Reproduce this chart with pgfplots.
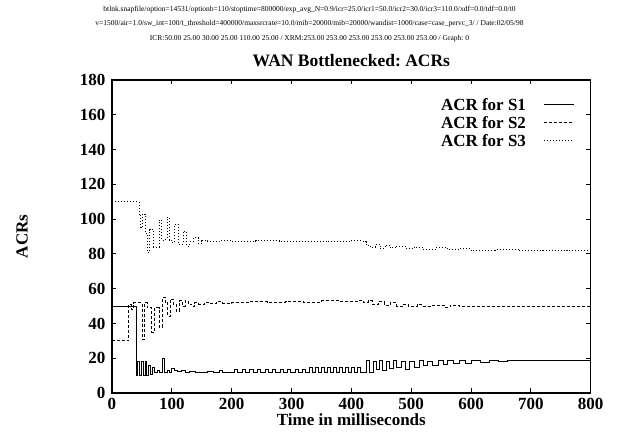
\documentclass[border=0pt]{standalone}
\usepackage{fontspec}
\setmainfont{Liberation Serif}
\usepackage{pgfplots}
\pgfplotsset{compat=1.18}
\frenchspacing
\begin{document}
\begin{tikzpicture}
\path[use as bounding box] (-112pt,-50pt) rectangle (507pt,393pt);
\begin{axis}[
  at={(0pt,0pt)}, anchor=south west,
  scale only axis, width=478.7pt, height=313pt,
  xmin=0, xmax=800, ymin=0, ymax=180,
  xtick={0,100,...,800}, ytick={0,20,...,180},
  /pgf/number format/assume math mode=true,
  tick label style={font=\fontsize{17}{17}\selectfont\bfseries},
  xticklabel style={yshift=-2pt},
  yticklabel style={xshift=-3pt},
  tick align=inside, major tick length=4.5pt,
  every tick/.style={black, line width=0.8pt},
  axis line style={black, line width=1.2pt},
  title={WAN Bottlenecked: ACRs},
  title style={font=\fontsize{17.5}{17.5}\selectfont\bfseries, at={(axis description cs:0.5,1)}, anchor=center, yshift=13pt},
  xlabel={Time in milliseconds},
  xlabel style={font=\fontsize{17}{17}\selectfont\bfseries, at={(axis description cs:0.5,0)}, anchor=center, yshift=-27pt},
  ylabel={ACRs},
  ylabel style={font=\fontsize{17}{17}\selectfont\bfseries, at={(axis description cs:-0.188,0.5)}, anchor=center},
  legend plot pos=right,
  legend cell align=right,
  legend image code/.code={\draw[#1] (0pt,0pt) -- (30pt,0pt);},
  legend style={draw=none, fill=none, inner sep=0pt, at={(axis description cs:0.967,0.946)}, anchor=north east,
    font=\fontsize{17}{17}\selectfont\bfseries, nodes={inner sep=1pt}, column sep=17pt, row sep=2.5pt},
]
\addplot[const plot, black, line width=0.7pt] coordinates {
(0,50) (40,10) (43,18) (46,10) (49,18) (52,10) (55,18) (58,10) (61,16) (64,11)
(67,15) (70,12) (73,12) (76,13) (79,12) (84,20) (87,12) (92,13) (96,12) (100,14)
(104,13) (110,12.5) (116,13) (122,12) (130,12.5) (140,12) (150,12) (160,12.5) (170,12) (180,13)
(185,12) (200,12) (205,13.6) (210,12) (218,13.6) (223,12) (230,13.6) (236,12) (243,13.6) (248,12)
(256,13.6) (261,12) (268,13.6) (273,12) (281,13.6) (286,12) (293,13.6) (298,12) (306,13.6) (311,12)
(318,13.6) (323,12) (330,14.5) (335,12) (340,15) (345,12) (350,15) (355,12) (360,15) (365,12)
(370,15) (375,12) (380,15) (385,12) (390,15) (395,12) (400,15) (405,12) (410,14.5) (415,12)
(425,18.5) (430,12) (436,18) (441,13.5) (446,18.5) (451,13) (458,18) (463,14) (470,18.5) (476,15)
(483,18) (490,13.5) (497,18) (505,15) (513,18.5) (520,16) (527,18) (535,16) (545,18.5) (553,16.5)
(560,18.5) (570,17) (580,18.5) (590,17) (600,18.5) (615,17.5) (630,19) (645,18) (660,19) (680,18.5)
(700,19) (730,18.8) (760,19) (800,19.5)
};
\addlegendentry{ACR for S1}
\addplot[const plot, black, line width=0.7pt, dash pattern=on 3pt off 2pt] coordinates {
(0,30) (28,51) (33,48) (36,52) (50,31) (54,52) (59,49) (66,35) (71,49) (79,38)
(84,55) (89,52) (93,44) (97,54) (102,51) (107,47) (112,53) (117,50) (122,53) (127,51)
(133,50) (138,52) (145,51) (155,52) (165,51.5) (175,52.5) (185,51.5) (200,52) (230,52.5) (260,52)
(290,52.5) (320,52) (350,53) (380,52.5) (410,53) (420,52) (428,53) (435,51) (445,52.5) (455,50.5)
(465,52) (475,50) (485,51) (495,50) (510,51) (520,50) (535,50.5) (555,49.5) (565,50.5) (580,50)
(800,50)
};
\addlegendentry{ACR for S2}
\addplot[const plot, black, line width=0.7pt, dash pattern=on 1pt off 2pt] coordinates {
(0,110) (45,103) (48,95) (51,103) (55,92) (59,81) (63,94) (69,84) (79,99.5) (83,88)
(86,88.5) (92,101) (96,88) (100,86.5) (104,97) (111,85.6) (119,92.8) (125,84.6) (130,87) (136,89.3)
(144,86) (150,87.5) (160,87) (180,87.5) (200,87) (240,87.5) (280,87) (320,87.3) (360,87) (400,87.5)
(420,87) (425,85) (432,84) (440,85.5) (448,83) (456,85) (465,83.5) (475,84.5) (490,83) (505,84)
(520,82.5) (540,83.5) (560,82.5) (580,83) (600,82) (640,82.5) (680,81.8) (720,82.2) (760,81.8) (800,81)
};
\addlegendentry{ACR for S3}
\end{axis}
\node[font=\fontsize{7.5}{7.5}\selectfont] at (197.5pt,383pt) {btlnk.snapfile/option=14531/optionb=110/stoptime=800000/exp\_avg\_N=0.9/icr=25.0/icr1=50.0/icr2=30.0/icr3=110.0/xdf=0.0/tdf=0.0/t0};
\node[font=\fontsize{7.5}{7.5}\selectfont] at (197.5pt,369pt) {v=1500/air=1.0/sw\_int=100/t\_threshold=400000/maxsrcrate=10.0/mib=20000/mib=20000/wandist=1000/case=case\_pervc\_3/ / Date:02/05/98};
\node[font=\fontsize{7.5}{7.5}\selectfont] at (197.5pt,354pt) {ICR:50.00 25.00 30.00 25.00 110.00 25.00 / XRM:253.00 253.00 253.00 253.00 253.00 253.00 / Graph: 0};
\end{tikzpicture}
\end{document}
